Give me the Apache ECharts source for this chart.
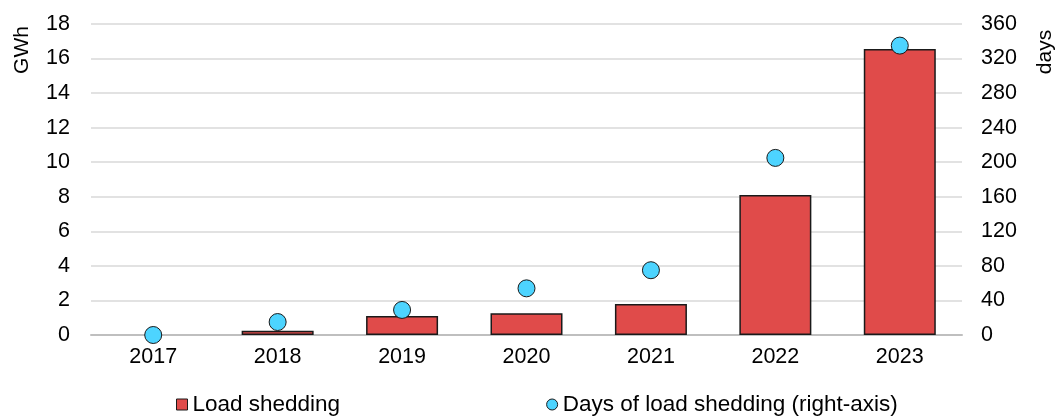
<!DOCTYPE html>
<html>
<head>
<meta charset="utf-8">
<script src="https://cdn.jsdelivr.net/npm/echarts@6/dist/echarts.min.js"></script>
<style>html,body{margin:0;padding:0;background:#fff}#c{width:1059px;height:416px}</style>
</head>
<body>
<div id="c"></div>
<script>
const categories = ['2017','2018','2019','2020','2021','2022','2023'];
const loadShedding = [0, 0.25, 1.1, 1.26, 1.8, 8.1, 16.55];
const daysOfLoadShedding = [0, 15, 29, 54, 75, 205, 335];
const leftLabel = 'GWh';
const rightLabel = 'days';

const FONT = 'Liberation Sans, Arial, sans-serif';
const TICK = 21.5;
const chart = echarts.init(document.getElementById('c'), null, {renderer: 'canvas'});
chart.setOption({
  animation: false,
  backgroundColor: '#fff',
  textStyle: {fontFamily: FONT},
  grid: {left: 91, right: 97, top: 24, bottom: 81},
  legend: {
    left: 171, top: 388, itemGap: 206, itemWidth: 11, itemHeight: 11,
    textStyle: {fontSize: 22.5, color: '#000', fontFamily: FONT},
    data: [
      {name: 'Load shedding', icon: 'rect', itemStyle: {color: '#E04B4A', borderColor: '#1a1a1a', borderWidth: 1}},
      {name: 'Days of load shedding (right-axis)', icon: 'circle', itemStyle: {color: '#4DD4FF', borderColor: '#1a1a1a', borderWidth: 1}}
    ]
  },
  xAxis: {
    type: 'category', data: categories,
    axisLine: {lineStyle: {color: '#bfbfbf', width: 2}},
    axisTick: {show: false},
    axisLabel: {fontSize: TICK, color: '#000', margin: 11, fontFamily: FONT}
  },
  yAxis: [
    {type: 'value', min: 0, max: 18, interval: 2,
     axisLine: {show: false}, axisTick: {show: false},
     axisLabel: {fontSize: TICK, color: '#000', margin: 21, fontFamily: FONT},
     splitLine: {lineStyle: {color: '#d9d9d9', width: 1.5}}},
    {type: 'value', min: 0, max: 360, interval: 40,
     axisLine: {show: false}, axisTick: {show: false},
     axisLabel: {fontSize: TICK, color: '#000', margin: 19, fontFamily: FONT},
     splitLine: {show: false}}
  ],
  graphic: [
    {type: 'text', x: 22, y: 50, rotation: Math.PI / 2,
     style: {text: leftLabel, fontSize: 21, fill: '#000', fontFamily: FONT, align: 'center', verticalAlign: 'middle'}},
    {type: 'text', x: 1045, y: 52, rotation: Math.PI / 2,
     style: {text: rightLabel, fontSize: 21, fill: '#000', fontFamily: FONT, align: 'center', verticalAlign: 'middle'}}
  ],
  series: [
    {name: 'Load shedding', type: 'bar', barWidth: 72, yAxisIndex: 0,
     data: loadShedding.map(v => v === 0 ? {value: v, itemStyle: {borderWidth: 0}} : v),
     itemStyle: {color: '#E04B4A', borderColor: '#1a1a1a', borderWidth: 1.5}},
    {name: 'Days of load shedding (right-axis)', type: 'scatter', data: daysOfLoadShedding, yAxisIndex: 1,
     symbol: 'circle', symbolSize: 17, z: 5,
     itemStyle: {color: '#4DD4FF', borderColor: '#1a1a1a', borderWidth: 1, opacity: 1}}
  ]
});
</script>
</body>
</html>
